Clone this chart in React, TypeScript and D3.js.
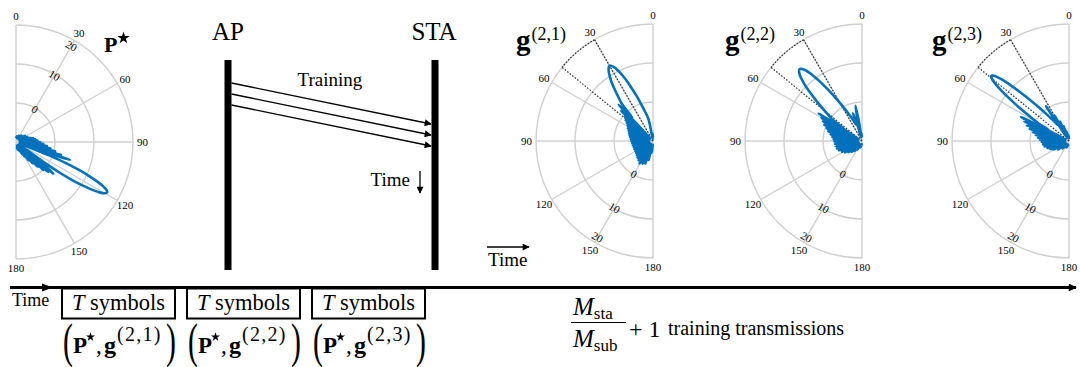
import React from "react";
import * as d3 from "d3";

const W = 1080;
const H = 367;
const FONT = "'Liberation Serif', 'Times New Roman', serif";
const BLUE = "#0072BD";
const GRID = "#cfcfcf";
const RAD = Math.PI / 180;

// Polar axes ticks and gain range (dB)
const angleTicks = [0, 30, 60, 90, 120, 150, 180];
const spokeTicks = [30, 60, 90, 120, 150];
const ringTicks = [0, 10, 20];
const gainDomain: [number, number] = [-10, 20];
const sectorDeg = [30, 51];
const windowLabels = ["(2,1)", "(2,2)", "(2,3)"];

// Beam patterns: [angle in degrees, gain in dB]
const pStarPattern: [number, number][] = [
  [0, -9], [8, -8.5], [16, -9], [24, -8.2], [32, -9], [40, -7.8], [48, -8.8],
  [55, -7.2], [60, -9], [65, -6.8], [70, -9], [74, -6], [76, -9], [78, -5.5],
  [80, -9], [82, -5], [84, -9], [86, -4.5], [88, -9], [90, -3.8], [92, -9],
  [94, -3], [95.8, -9], [97.5, -2], [99, -9], [100.5, -1], [102, -9],
  [103.5, 0.3], [104.8, -9], [106, 2], [107.2, -9], [108.3, 4.6], [109.7, -3],
  [111, -9], [112, -1], [113, 4.2], [114, 7.8], [115, 10.8], [116, 13.3], [117, 15.2],
  [118, 16.3], [119, 16.7], [120, 16.3], [121, 15.2], [122, 13.3], [123, 10.8],
  [124, 7.8], [125, 4.2], [126, -1], [127, -9], [128.6, -2], [130.3, 2.6],
  [131.7, -9], [133, 1.3], [134.4, -9], [135.8, 0], [137.2, -9], [138.8, -1.5],
  [140.4, -9], [142, -3], [143.7, -9], [145.5, -4.2], [147.3, -9], [149.2, -5.5],
  [151.2, -9], [153.5, -6.5], [156, -9], [159, -7.5], [163, -9], [168, -8],
  [174, -9], [180, -9],
];

const g21Pattern: [number, number][] = [
  [0, -9], [4, -8], [8, -9.5], [11, -5.5], [12, -4.1], [15, -2.3], [18, 0.1],
  [20, 2.3], [22, 4.6], [24, 7.4], [26, 9.7], [28, 11.5], [30, 12.3], [32, 11.5],
  [34, 9.7], [36, 7.4], [38, 4.6], [40, 2.3], [41.5, -2], [43.5, 2.8], [45, -9],
  [46.5, 1.2], [48, -9], [49.5, -0.5], [51, -9], [52.5, -1.2], [54, -9],
  [55.7, -1.8], [57.4, -9], [59.2, -2.4], [61, -9], [63, -2.8], [65, -9],
  [67, -3.2], [69, -9], [71.2, -3.5], [73.4, -9], [75.7, -3.8], [78, -9],
  [80.5, -4], [83, -9], [85.5, -4.3], [88, -9], [90.7, -4.5], [93.4, -9],
  [96, -4.6], [98.7, -9], [101.5, -4.7], [104.3, -9], [107, -4.8], [110, -9],
  [113, -4.8], [116, -9], [119, -4.8], [122, -9], [125, -4.7], [128, -9],
  [131, -4.5], [134, -9], [137, -4.2], [140, -9], [143, -3.8], [146, -9],
  [149, -3.3], [152, -9], [155, -3.6], [158, -9], [161, -3.9], [164, -9],
  [167, -5], [170, -9], [174, -7], [177, -9], [180, -8.5],
];

const g22Pattern: [number, number][] = [
  [0, -9], [4, -8], [7, -9], [9, -5], [10.5, -0.8], [12, -5], [14, -9],
  [16, -5.5], [18, -2.5], [19.5, -5.5], [21, -5.1], [25, -3.1], [28, -0.8],
  [31, 2.3], [33, 5.1], [35, 8.2], [37, 11.2], [39, 13.5], [41, 14.4], [43, 13.5],
  [45, 11.2], [47, 8.2], [49, 5.1], [51, 2.3], [54, -0.8], [55.5, -4.5],
  [57.5, 3.2], [59, -9], [60.5, 2], [62, -9], [63.5, 1.2], [65, -9], [66.7, 0.5],
  [68.4, -9], [70.2, -0.3], [72, -9], [74, -1], [76, -9], [78, -1.8],
  [80, -9], [82.2, -2.3], [84.4, -9], [86.7, -2.7], [89, -9], [91.5, -2.9],
  [94, -9], [96.5, -3], [99, -9], [101.5, -3.1], [104, -9], [106.6, -3.3],
  [109.2, -9], [112, -3.6], [115, -9], [118, -4.2], [121, -9], [124, -4.8],
  [127, -9], [130, -5.5], [133, -9], [136.5, -6.2], [140, -9], [144, -6.8],
  [148, -9], [153, -7.5], [160, -9], [168, -8.3], [175, -9.2], [180, -9],
];

const g23Pattern: [number, number][] = [
  [0, -9.5], [5, -8.5], [10, -9.2], [14, -7.5], [17, -9], [20, -6], [22.5, -9],
  [25, -4.5], [27.3, -9], [29.5, -2.5], [31.5, -9], [33.3, 0.7], [35, -5],
  [37, -3.8], [40, -1], [42, 1.8], [44, 5.5], [45, 7.7], [46, 10], [47, 12.3],
  [48, 14.2], [49, 15.5], [50, 16], [51, 15.5], [52, 14.2], [53, 12.3], [54, 10],
  [55, 7.7], [56, 5.5], [58, 1.8], [60, -1], [61.5, -4], [63.5, 3.8], [65, -9],
  [66.5, 2.5], [68, -9], [69.6, 1.5], [71.2, -9], [72.8, 0.5], [74.5, -9],
  [76.3, -0.5], [78.1, -9], [80, -1.3], [82, -9], [84, -2], [86, -9],
  [88.2, -2.5], [90.4, -9], [92.7, -3], [95, -9], [97.5, -3.3], [100, -9],
  [102.5, -3.6], [105, -9], [108, -4.2], [111, -9], [114, -4.8], [117, -9],
  [120, -5.5], [124, -9], [128, -6.5], [133, -9], [140, -7.5], [148, -9],
  [158, -8.2], [168, -9], [180, -9.2],
];

const R = 117;
const star = d3.symbol().type(d3.symbolStar);

function pt(cx: number, cy: number, side: number, deg: number, rad: number) {
  return [cx + side * rad * Math.sin(deg * RAD), cy - rad * Math.cos(deg * RAD)];
}

function arcPath(cx: number, cy: number, side: number, radius: number, a0: number, a1: number) {
  const p = d3.path();
  const phi = (a: number) => (side > 0 ? a - 90 : -90 - a) * RAD;
  const [x0, y0] = pt(cx, cy, side, a0, radius);
  p.moveTo(x0, y0);
  p.arc(cx, cy, radius, phi(a0), phi(a1), side < 0);
  return p.toString();
}

type PanelProps = {
  cx: number;
  cy: number;
  side: number;
  pattern: [number, number][];
  sector?: number[];
};

function PolarPanel({ cx, cy, side, pattern, sector }: PanelProps) {
  const r = d3.scaleLinear().domain(gainDomain).range([0, R]).clamp(true);
  const line = d3
    .lineRadial<[number, number]>()
    .angle((d) => side * d[0] * RAD)
    .radius((d) => r(d[1]))
    .curve(d3.curveCatmullRom.alpha(0.5));
  const labelSpoke = side > 0 ? 30 : 150;
  const top = pt(cx, cy, side, 0, R);
  const bottom = pt(cx, cy, side, 180, R);
  return (
    <g>
      {ringTicks.map((t) => (
        <path key={"ring" + t} d={arcPath(cx, cy, side, r(t), 0, 180)} fill="none" stroke={GRID} strokeWidth={1.4} />
      ))}
      <line x1={top[0]} y1={top[1]} x2={bottom[0]} y2={bottom[1]} stroke={GRID} strokeWidth={1.4} />
      {spokeTicks.map((a) => {
        const [x, y] = pt(cx, cy, side, a, R);
        return <line key={"sp" + a} x1={cx} y1={cy} x2={x} y2={y} stroke={GRID} strokeWidth={1.4} />;
      })}
      {angleTicks.map((a) => {
        if (a === 0)
          return (
            <text key={"al" + a} x={cx} y={cy - R - 5} textAnchor="middle" fontSize={11} fontFamily={FONT}>
              {a}
            </text>
          );
        if (a === 180)
          return (
            <text key={"al" + a} x={cx} y={cy + R + 13} textAnchor="middle" fontSize={11} fontFamily={FONT}>
              {a}
            </text>
          );
        if (a === 90)
          return (
            <text
              key={"al" + a}
              x={cx + side * (R + 4)}
              y={cy + 4}
              textAnchor={side > 0 ? "start" : "end"}
              fontSize={11}
              fontFamily={FONT}
            >
              {a}
            </text>
          );
        const [x, y] = pt(cx, cy, side, a, R + 9);
        return (
          <text key={"al" + a} x={x} y={y + 4} textAnchor="middle" fontSize={11} fontFamily={FONT}>
            {a}
          </text>
        );
      })}
      {ringTicks.map((t) => {
        const rr = Math.min(r(t) - 1, R - 6);
        const [x, y] = pt(cx, cy, side, labelSpoke, rr);
        return (
          <text
            key={"rl" + t}
            x={x}
            y={y}
            transform={`rotate(30 ${x} ${y})`}
            textAnchor="middle"
            dominantBaseline="central"
            fontSize={11}
            fontFamily={FONT}
          >
            {t}
          </text>
        );
      })}
      {sector && (
        <g fill="none" stroke="#333" strokeWidth={1.2} strokeDasharray="1.6 1.6">
          {sector.map((a) => {
            const [x, y] = pt(cx, cy, side, a, R);
            return <line key={"sec" + a} x1={cx} y1={cy} x2={x} y2={y} />;
          })}
          <path d={arcPath(cx, cy, side, R, sector[0], sector[1])} />
        </g>
      )}
      <path
        d={line(pattern) || ""}
        transform={`translate(${cx},${cy})`}
        fill="none"
        stroke={BLUE}
        strokeWidth={2.6}
        strokeLinejoin="round"
      />
    </g>
  );
}

function GTitle({ x, label }: { x: number; label: string }) {
  return (
    <text x={x} y={50} fontFamily={FONT}>
      <tspan fontWeight="bold" fontSize={29}>g</tspan>
      <tspan fontSize={18} dx={1} dy={-10}>{label}</tspan>
    </text>
  );
}

export default function App() {
  const gCenters = [653, 862, 1069];
  const gPatterns = [g21Pattern, g22Pattern, g23Pattern];
  const lineY = 287.5;
  return (
    <svg width={W} height={H} style={{ display: "block", position: "absolute", left: 0, top: 0 }}>
      <defs>
        <marker id="headSmall" viewBox="0 0 10 10" refX="9" refY="5" markerWidth="8" markerHeight="7" markerUnits="userSpaceOnUse" orient="auto">
          <path d="M0,0 L10,5 L0,10 z" fill="#000" />
        </marker>
        <marker id="headBig" viewBox="0 0 10 10" refX="9" refY="5" markerWidth="12" markerHeight="8" markerUnits="userSpaceOnUse" orient="auto">
          <path d="M0,0 L10,5 L0,10 z" fill="#000" />
        </marker>
      </defs>
      <rect x={0} y={0} width={W} height={H} fill="#fff" />

      {/* optimized beam pattern */}
      <PolarPanel cx={16} cy={142} side={1} pattern={pStarPattern} />
      <text x={104} y={52} fontFamily={FONT} fontWeight="bold" fontSize={22}>P</text>
      <path d={star.size(48)() || ""} transform="translate(123.5,38)" fill="#000" />

      {/* AP / STA exchange */}
      <text x={228} y={40} textAnchor="middle" fontFamily={FONT} fontSize={25}>AP</text>
      <text x={434} y={40} textAnchor="middle" fontFamily={FONT} fontSize={25}>STA</text>
      <rect x={224.5} y={60} width={7} height={210} fill="#000" />
      <rect x={431.5} y={60} width={7} height={210} fill="#000" />
      {[0, 1, 2].map((i) => (
        <line
          key={"tr" + i}
          x1={231.5}
          y1={83 + i * 11}
          x2={431}
          y2={124 + i * 11}
          stroke="#000"
          strokeWidth={1.3}
          markerEnd="url(#headSmall)"
        />
      ))}
      <text x={330} y={86} textAnchor="middle" fontFamily={FONT} fontSize={19}>Training</text>
      <text x={410} y={186} textAnchor="end" fontFamily={FONT} fontSize={19}>Time</text>
      <line x1={420} y1={171} x2={420} y2={193} stroke="#000" strokeWidth={1.3} markerEnd="url(#headSmall)" />

      {/* codebook beam sweep */}
      {gCenters.map((cx, i) => (
        <g key={"g" + i}>
          <PolarPanel cx={cx} cy={141} side={-1} pattern={gPatterns[i]} sector={sectorDeg} />
          <GTitle x={cx - 137} label={windowLabels[i]} />
        </g>
      ))}
      <line x1={487} y1={247} x2={529} y2={247} stroke="#000" strokeWidth={1.3} markerEnd="url(#headSmall)" />
      <text x={488} y={266} fontFamily={FONT} fontSize={19}>Time</text>

      {/* time line */}
      <line x1={10} y1={lineY} x2={1076} y2={lineY} stroke="#000" strokeWidth={2.8} markerEnd="url(#headBig)" />
      <path d={`M${42},${lineY - 4} L${53},${lineY} L${42},${lineY + 4} z`} fill="#000" />
      <text x={12} y={306} fontFamily={FONT} fontSize={18}>Time</text>

      {windowLabels.map((lab, i) => {
        const x0 = 62 + i * 125;
        const bw = 113;
        const mid = x0 + bw / 2;
        return (
          <g key={"box" + i}>
            <rect x={x0} y={288.5} width={bw} height={30} fill="none" stroke="#000" strokeWidth={2} />
            <text x={mid} y={310} textAnchor="middle" fontFamily={FONT} fontSize={22.5}>
              <tspan fontStyle="italic">T</tspan>
              <tspan> symbols</tspan>
            </text>
            <text
              x={x0 + 1}
              y={357}
              fontFamily={FONT}
              fontSize={48}
              transform={`translate(${x0 + 1},0) scale(0.62,1) translate(${-(x0 + 1)},0)`}
            >
              (
            </text>
            <text
              x={x0 + bw + 1}
              y={357}
              textAnchor="end"
              fontFamily={FONT}
              fontSize={48}
              transform={`translate(${x0 + bw + 1},0) scale(0.62,1) translate(${-(x0 + bw + 1)},0)`}
            >
              )
            </text>
            <text x={x0 + 11} y={353} fontFamily={FONT} fontSize={23} fontWeight="bold">P</text>
            <path d={star.size(26)() || ""} transform={`translate(${x0 + 28.5},337)`} fill="#000" />
            <text x={x0 + 34} y={353} fontFamily={FONT} fontSize={23}>,</text>
            <text x={x0 + 42} y={353} fontFamily={FONT} fontSize={24} fontWeight="bold">g</text>
            <text x={x0 + 55} y={341} fontFamily={FONT} fontSize={20} letterSpacing={1.3}>{lab}</text>
          </g>
        );
      })}

      {/* number of training transmissions */}
      <text x={573} y={315} fontFamily={FONT} fontSize={25}>
        <tspan fontStyle="italic">M</tspan>
        <tspan fontSize={17} dy={4}>sta</tspan>
      </text>
      <line x1={571} y1={322.5} x2={626} y2={322.5} stroke="#000" strokeWidth={1.2} />
      <text x={573} y={347} fontFamily={FONT} fontSize={25}>
        <tspan fontStyle="italic">M</tspan>
        <tspan fontSize={17} dy={4}>sub</tspan>
      </text>
      <text x={629} y={337} fontFamily={FONT} fontSize={24}>+ 1</text>
      <text x={668} y={335} fontFamily={FONT} fontSize={20}>training transmissions</text>
    </svg>
  );
}
